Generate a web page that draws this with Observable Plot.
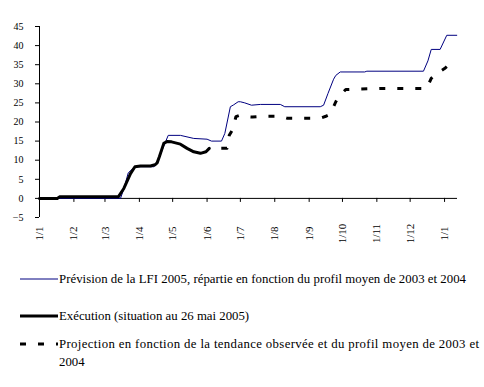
<!DOCTYPE html>
<html><head><meta charset="utf-8">
<script src="https://cdn.jsdelivr.net/npm/d3@7"></script>
<script src="https://cdn.jsdelivr.net/npm/@observablehq/plot@0.6"></script>
<style>
body{margin:0;background:#fff;}
svg{display:block;}
</style>
</head><body><div id="chart"></div><script>
// Prévision de la LFI 2005
const prevDates = ["2005-01-01","2005-03-15","2005-03-18","2005-03-22","2005-03-28","2005-04-14","2005-04-17","2005-04-22","2005-04-27","2005-05-08","2005-05-20","2005-06-01","2005-06-05","2005-06-14","2005-06-17","2005-06-22","2005-06-25","2005-06-29","2005-07-01","2005-07-05","2005-07-11","2005-07-19","2005-08-06","2005-08-10","2005-09-11","2005-09-14","2005-09-18","2005-09-23","2005-09-25","2005-09-29","2005-10-21","2005-10-23","2005-12-13","2005-12-17","2005-12-20","2005-12-28","2006-01-03","2006-01-12"];
const prevValues = [0,0,2.5,6.7,8.3,8.3,9.0,13,16.5,16.5,15.7,15.5,15.0,15.0,17,24.0,24.5,25.3,25.3,25.0,24.4,24.6,24.6,24.0,24.0,24.4,27.5,31.2,32.2,33.1,33.1,33.3,33.3,36,39.0,39.0,42.7,42.7];
// Exécution
const execDates = ["2005-01-01","2005-01-17","2005-01-19","2005-03-13","2005-03-18","2005-03-24","2005-03-28","2005-04-02","2005-04-11","2005-04-15","2005-04-17","2005-04-19","2005-04-23","2005-04-26","2005-04-30","2005-05-08","2005-05-14","2005-05-20","2005-05-26","2005-05-31","2005-06-03"];
const execValues = [0,0,0.4,0.4,2.6,6.5,8.3,8.5,8.5,8.8,9.3,10.9,14.4,14.9,14.8,14.2,13.1,12.2,11.8,12.2,13.1];
// Projection
const projDates = ["2005-06-03","2005-06-19","2005-06-21","2005-06-24","2005-06-27","2005-07-01","2005-07-06","2005-07-12","2005-07-21","2005-08-06","2005-08-12","2005-09-11","2005-09-16","2005-09-20","2005-09-25","2005-09-28","2005-10-04","2005-10-26","2005-11-04","2005-12-16","2005-12-20","2005-12-24","2006-01-01","2006-01-07"];
const projValues = [13.1,13.1,16.5,18.0,21.4,21.8,21.4,21.3,21.5,21.5,21.0,21.0,21.5,22.0,25.3,26.8,28.5,28.7,28.8,28.8,31.4,32.5,34.0,35.5];

const tickDates = ["2005-01-01","2005-02-01","2005-03-01","2005-04-01","2005-05-01","2005-06-01","2005-07-01","2005-08-01","2005-09-01","2005-10-01","2005-11-01","2005-12-01","2006-01-01"];
const tickLabels = ["1/1","1/2","1/3","1/4","1/5","1/6","1/7","1/8","1/9","1/10","1/11","1/12","1/1"];
const yTicks = [-5,0,5,10,15,20,25,30,35,40,45];
const legendLabels = [
  "Prévision de la LFI 2005, répartie en fonction du profil moyen de 2003 et 2004",
  "Exécution (situation au 26 mai 2005)",
  ["Projection en fonction de la tendance observée et du profil moyen de 2003 et", "2004"]
];

const toRows = (ds, vs) => ds.map((d, i) => ({date: new Date(d), value: vs[i]}));
const prev = toRows(prevDates, prevValues);
const exec = toRows(execDates, execValues);
const proj = toRows(projDates, projValues);
const ticks = tickDates.map(d => new Date(d));
const FONT = "Liberation Serif, Times New Roman, serif";

const chart = Plot.plot({
  width: 484, height: 255,
  marginLeft: 39, marginRight: 27, marginTop: 26, marginBottom: 38,
  style: {fontFamily: FONT, fontSize: "10px", color: "black", background: "white", overflow: "visible"},
  x: {type: "utc", label: null, domain: [new Date("2005-01-01"), new Date("2006-01-12T16:00:00Z")]},
  y: {label: null, domain: [-5, 45]},
  marks: [
    Plot.axisY(yTicks, {label: null, tickSize: 4, tickPadding: 12, fontSize: 10}),
    Plot.ruleX([ticks[0]], {y1: -5, y2: 45, stroke: "black"}),
    Plot.ruleY([0], {stroke: "black"}),
    Plot.ruleX(ticks, {y1: 0, y2: -1.05, stroke: "black"}),
    Plot.axisX(ticks, {label: null, tickSize: 0, tickPadding: 16, tickRotate: -90, textAnchor: "middle", lineAnchor: "middle", fontSize: 11, tickFormat: (d, i) => tickLabels[i]}),
    Plot.line(prev, {x: "date", y: "value", stroke: "#000080", strokeWidth: 1, strokeLinejoin: "miter"}),
    Plot.line(proj, {x: "date", y: "value", stroke: "black", strokeWidth: 3, strokeDasharray: "6,12", strokeDashoffset: 6, strokeLinecap: "butt"}),
    Plot.line(exec, {x: "date", y: "value", stroke: "black", strokeWidth: 3})
  ]
});
document.getElementById("chart").appendChild(chart);

// Legend
const leg = d3.create("svg").attr("width", 484).attr("height", 132)
  .style("font-family", FONT).style("font-size", "12.8px");
const items = [
  {y: 24, stroke: "#000080", w: 1, dash: null, len: [407]},
  {y: 61, stroke: "black", w: 3, dash: null, len: [null]},
  {y: 89, stroke: "black", w: 3, dash: "6,12", len: [420, null]}
];
items.forEach((it, i) => {
  const l = leg.append("line").attr("x1", 20).attr("x2", 58).attr("y1", it.y).attr("y2", it.y)
    .attr("stroke", it.stroke).attr("stroke-width", it.w);
  if (it.dash) l.attr("stroke-dasharray", it.dash);
  const lab = legendLabels[i];
  const lines = Array.isArray(lab) ? lab : [lab];
  lines.forEach((t, j) => {
    const tx = leg.append("text").attr("x", 59).attr("y", it.y + 4 + j * 18).attr("fill", "black").text(t);
    if (it.len[j]) tx.attr("textLength", it.len[j]).attr("lengthAdjust", "spacing");
  });
});
document.getElementById("chart").appendChild(leg.node());
</script></body></html>
